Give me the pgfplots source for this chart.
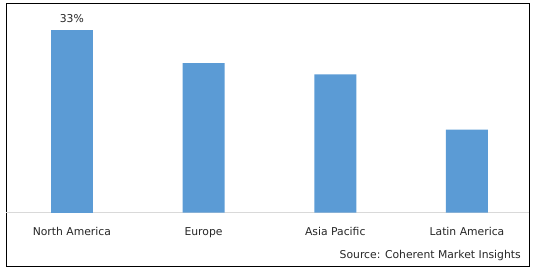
\documentclass[border=0pt]{standalone}
\usepackage{pgfplots}
\pgfplotsset{compat=1.18}
\usepackage{fontspec}
\setmainfont{DejaVu Sans}
\definecolor{barblue}{HTML}{5B9BD5}
\definecolor{txt}{HTML}{262626}
\begin{document}
\begin{tikzpicture}[x=1pt,y=1pt]
\path[use as bounding box] (0,0) rectangle (538,272);
\draw[black, line width=0.9pt] (6,6) rectangle (529,269);
\begin{axis}[
  at={(6pt,59.3pt)}, anchor=south west,
  scale only axis, width=523pt, height=209.7pt,
  xmin=-0.5, xmax=3.471, ymin=0, ymax=37.88,
  axis x line=bottom, axis y line=none,
  x axis line style={draw=black!15, line width=0.8pt, -},
  xtick={0,1,2,3},
  xticklabels={North America, Europe, Asia Pacific, Latin America},
  major tick length=0pt,
  xticklabel style={font=\fontsize{10.8}{12}\selectfont, text=txt, yshift=-11.5pt},
  ybar, bar width=42pt, bar shift=0pt,
  clip=false,
]
\addplot[fill=barblue, draw=none, nodes near coords={33\%},
  every node near coord/.append style={font=\fontsize{10.8}{12}\selectfont, text=txt, yshift=4pt}]
  coordinates {(0,33)};
\addplot[fill=barblue, draw=none] coordinates {(1,27) (2,25) (3,15)};
\end{axis}
\node[anchor=east, font=\fontsize{10.8}{12}\selectfont, text=txt, inner sep=0pt] at (521,16) {Source: Coherent Market Insights};
\end{tikzpicture}
\end{document}
